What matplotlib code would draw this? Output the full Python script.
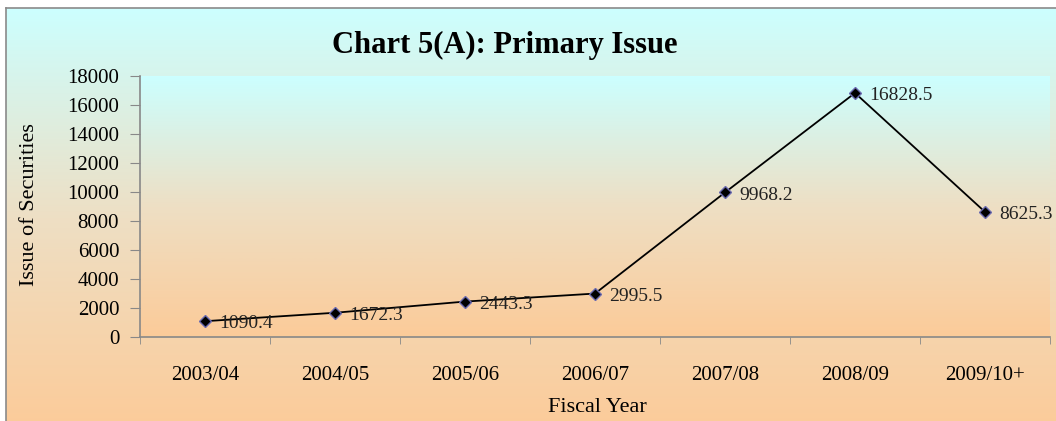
import numpy as np
import matplotlib.pyplot as plt
from matplotlib.colors import LinearSegmentedColormap

years = ['2003/04', '2004/05', '2005/06', '2006/07', '2007/08', '2008/09', '2009/10+']
issue = [1090.4, 1672.3, 2443.3, 2995.5, 9968.2, 16828.5, 8625.3]
yticks = [0, 2000, 4000, 6000, 8000, 10000, 12000, 14000, 16000, 18000]

plt.rcParams['font.family'] = ['Liberation Serif', 'DejaVu Serif']

W, H = 1056, 421
fig = plt.figure(figsize=(W / 100, H / 100), dpi=100)

grad = LinearSegmentedColormap.from_list('sunset', ['#FCCB99', '#EEDFC4', '#CCFFFF'])
g = np.linspace(0, 1, 256).reshape(-1, 1)

# outer chart area with border
bg = fig.add_axes([6 / W, -0.02, 1.0, (H - 8) / H + 0.02])
bg.imshow(g, cmap=grad, aspect='auto', origin='lower', extent=[0, 1, 0, 1])
bg.set_xticks([])
bg.set_yticks([])
for s in bg.spines.values():
    s.set_color('#8a8a8a')
    s.set_linewidth(1.2)

ax = fig.add_axes([140 / W, (H - 337) / H, 910 / W, 261 / H])
ax.imshow(g, cmap=grad, aspect='auto', origin='lower', extent=[0, 1, 0, 1],
          transform=ax.transAxes, zorder=0)

x = np.arange(len(years))
ax.plot(x, issue, color='black', lw=1.3, marker='D', ms=6,
        mfc='black', mec='#6a6ab0', mew=1, zorder=3)
for xi, v in zip(x, issue):
    ax.annotate(f'{v:.1f}', (xi, v), xytext=(10, -2), textcoords='offset points',
                ha='left', va='center', fontsize=14, color='#222222',
                annotation_clip=False, zorder=4)

ax.set_xlim(-0.5, len(years) - 0.5)
ax.set_ylim(0, 18000)
ax.set_yticks(yticks)
ax.set_yticklabels([str(t) for t in yticks], fontsize=15)
ax.set_xticks(x)
ax.set_xticklabels(years, fontsize=15)
ax.set_xticks(np.arange(-0.5, len(years)), minor=True)
ax.tick_params(axis='x', which='major', length=0, pad=21)
ax.tick_params(axis='x', which='minor', length=5, color='#888888', direction='out')
ax.tick_params(axis='y', length=7, color='#888888', pad=8)

for s in ['top', 'right']:
    ax.spines[s].set_visible(False)
for s in ['left', 'bottom']:
    ax.spines[s].set_color('#888888')
    ax.spines[s].set_linewidth(1.2)

fig.text(505 / W, 1 - 45 / H, 'Chart 5(A): Primary Issue', ha='center', va='center',
         fontsize=22, fontweight='bold')
fig.text(597 / W, 1 - 407 / H, 'Fiscal Year', ha='center', va='center', fontsize=16)
fig.text(30 / W, 1 - 205 / H, 'Issue of Securities', ha='center', va='center',
         fontsize=16, rotation=90)

fig.savefig('out.png', dpi=100)
